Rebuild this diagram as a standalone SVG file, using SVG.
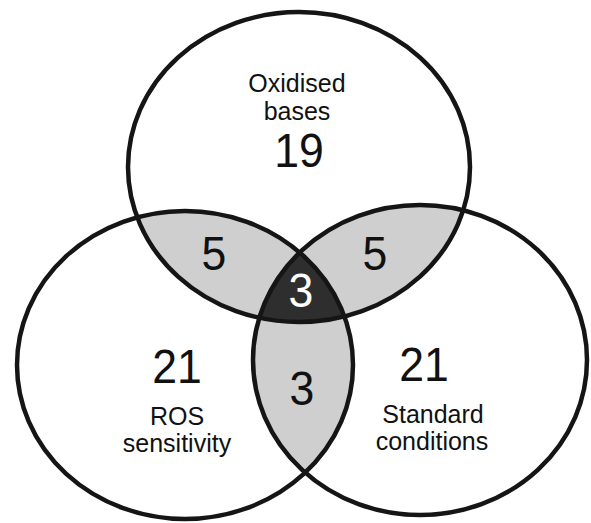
<svg xmlns="http://www.w3.org/2000/svg" width="591" height="523" viewBox="0 0 591 523">
  <style>
    .ring { fill: none; stroke: #151515; stroke-width: 4.5; }
    .pair { fill: #cfcfcf; }
    .triple { fill: #2e2e2e; }
    .lbl { font-family: "Liberation Sans", Arial, sans-serif; font-size: 25px; fill: #111; text-anchor: middle; }
    .num { font-family: "Liberation Sans", Arial, sans-serif; font-size: 49px; fill: #111; text-anchor: middle; }
    .inv { fill: #ffffff; }
  </style>
  <defs>
    <ellipse id="eTop" cx="299" cy="167" rx="171" ry="155"/>
    <ellipse id="eLeft" cx="185" cy="365" rx="168" ry="154"/>
    <ellipse id="eRight" cx="420" cy="360" rx="167" ry="155"/>
    <clipPath id="cTop"><use href="#eTop"/></clipPath>
    <clipPath id="cLeft"><use href="#eLeft"/></clipPath>
    <clipPath id="cRight"><use href="#eRight"/></clipPath>
  </defs>
  <rect width="591" height="523" fill="#ffffff"/>
  <g id="overlaps">
    <use href="#eLeft" class="pair" clip-path="url(#cTop)"/>
    <use href="#eRight" class="pair" clip-path="url(#cTop)"/>
    <use href="#eRight" class="pair" clip-path="url(#cLeft)"/>
    <g clip-path="url(#cRight)">
      <use href="#eLeft" class="triple" clip-path="url(#cTop)"/>
    </g>
  </g>
  <g id="set-oxidised">
    <use href="#eTop" class="ring"/>
    <text class="lbl" x="297" y="92">Oxidised</text>
    <text class="lbl" x="297" y="120">bases</text>
    <text class="num" transform="translate(299,167) scale(0.91,1)">19</text>
  </g>
  <g id="set-ros">
    <use href="#eLeft" class="ring"/>
    <text class="num" transform="translate(177,383) scale(0.91,1)">21</text>
    <text class="lbl" x="177" y="425">ROS</text>
    <text class="lbl" x="177" y="452">sensitivity</text>
  </g>
  <g id="set-standard">
    <use href="#eRight" class="ring"/>
    <text class="num" transform="translate(424,381) scale(0.91,1)">21</text>
    <text class="lbl" x="433" y="423">Standard</text>
    <text class="lbl" x="432" y="450">conditions</text>
  </g>
  <g id="region-labels">
    <text class="num" transform="translate(214,270) scale(0.91,1)">5</text>
    <text class="num" transform="translate(375,270) scale(0.91,1)">5</text>
    <text class="num inv" transform="translate(301,307) scale(0.91,1)">3</text>
    <text class="num" transform="translate(302,405) scale(0.91,1)">3</text>
  </g>
  <g id="connectors"/>
</svg>
